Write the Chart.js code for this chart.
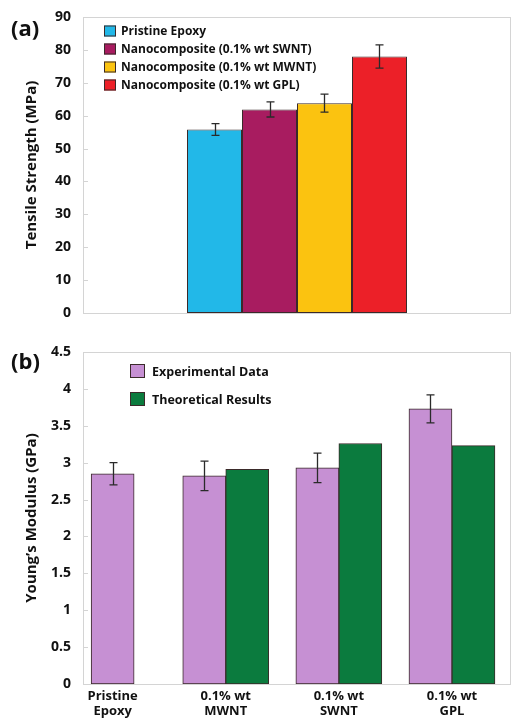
<!DOCTYPE html>
<html>
<head>
<meta charset="utf-8">
<script src="https://cdn.jsdelivr.net/npm/chart.js@4.4.0/dist/chart.umd.min.js"></script>
<style>
  html, body { margin: 0; padding: 0; background: #fff; }
  #wrap { position: relative; width: 512px; height: 721px; overflow: hidden; font-family: "Open Sans", sans-serif; }
  canvas { position: absolute; left: 0; }
  #cA { top: 0; }
  #cB { top: 330px; }
  .panel { position: absolute; font-weight: bold; font-size: 22px; color: #111; line-height: 1; }
</style>
</head>
<body>
<div id="wrap">
  <canvas id="cA" width="512" height="330"></canvas>
  <canvas id="cB" width="512" height="391"></canvas>
  <div class="panel" style="left:11px; top:16px">(a)</div>
  <div class="panel" style="left:11px; top:349px">(b)</div>
</div>
<script>
/* ── data ───────────────────────────────────────── */

// (a) tensile strength
var tsSeries = ['Pristine Epoxy', 'Nanocomposite (0.1% wt SWNT)', 'Nanocomposite (0.1% wt MWNT)', 'Nanocomposite (0.1% wt GPL)'];
var tsValues = [55.8, 61.9, 63.8, 78.0];
var tsErrors = [1.8, 2.3, 2.75, 3.55];
var tsColors = ['#22b8e8', '#a81c60', '#fbc310', '#ec2028'];

// (b) young's modulus
var ymCategories = [['Pristine', 'Epoxy'], ['0.1% wt', 'MWNT'], ['0.1% wt', 'SWNT'], ['0.1% wt', 'GPL']];
var ymSeries = ['Experimental Data', 'Theoretical Results'];
var ymExp = [2.85, 2.82, 2.93, 3.73];
var ymExpErr = [0.15, 0.2, 0.2, 0.19];
var ymTheory = [null, 2.91, 3.26, 3.23];
var ymColors = ['#c690d3', '#0b7b3e'];

var FONT = '"Open Sans"';
var INK = '#111';

/* ── plugins ────────────────────────────────────── */

// light grey frame + short inward tick marks
var framePlugin = {
  id: 'frame',
  beforeDatasetsDraw: function (chart) {
    var a = chart.chartArea, ctx = chart.ctx, y = chart.scales.y;
    ctx.save();
    ctx.strokeStyle = '#d4d4d4';
    ctx.lineWidth = 1;
    ctx.strokeRect(a.left + 0.5, a.top + 0.5, a.right - a.left - 1, a.bottom - a.top);
    y.ticks.forEach(function (t, i) {
      var py = Math.round(y.getPixelForTick(i)) + 0.5;
      ctx.beginPath();
      ctx.moveTo(a.left, py);
      ctx.lineTo(a.left + 5, py);
      ctx.stroke();
    });
    ctx.restore();
  }
};

// legend drawn inside the plot
var boxLegend = {
  id: 'boxLegend',
  afterDraw: function (chart, args, o) {
    var ctx = chart.ctx;
    ctx.save();
    ctx.font = 'bold ' + o.size + 'px ' + FONT;
    ctx.textBaseline = 'middle';
    chart.data.datasets.forEach(function (ds, i) {
      var cy = o.y + i * o.step;
      ctx.fillStyle = ds.backgroundColor;
      ctx.fillRect(o.x, cy - o.bh / 2, o.bw, o.bh);
      ctx.strokeStyle = '#3a2a2a';
      ctx.lineWidth = 1;
      ctx.strokeRect(o.x + 0.5, cy - o.bh / 2 + 0.5, o.bw - 1, o.bh - 1);
      ctx.fillStyle = INK;
      ctx.fillText(ds.label, o.tx, cy + 1);
    });
    ctx.restore();
  }
};

function errPlugin(errList) {
  return {
    id: 'errBars',
    afterDatasetsDraw: function (chart) {
      var ctx = chart.ctx, y = chart.scales.y;
      ctx.save();
      ctx.strokeStyle = '#2a2a2a';
      ctx.lineWidth = 1.3;
      errList.forEach(function (errs, di) {
        if (!errs) return;
        var meta = chart.getDatasetMeta(di);
        meta.data.forEach(function (bar, i) {
          var p = meta.controller.getParsed(i);
          var v = p && p.y, e = errs[i];
          if (v == null || e == null) return;
          var top = y.getPixelForValue(v + e), bot = y.getPixelForValue(v - e);
          var x = Math.round(bar.x) + 0.5;
          ctx.beginPath();
          ctx.moveTo(x, top); ctx.lineTo(x, bot);
          ctx.moveTo(x - 4, top); ctx.lineTo(x + 4, top);
          ctx.moveTo(x - 4, bot); ctx.lineTo(x + 4, bot);
          ctx.stroke();
        });
      });
      ctx.restore();
    }
  };
}

function tickFont(size) { return { family: FONT, weight: 'bold', size: size }; }

/* ── (a) tensile strength ───────────────────────── */
new Chart(document.getElementById('cA'), {
  type: 'bar',
  data: {
    labels: [''],
    datasets: tsSeries.map(function (name, i) {
      return {
        label: name,
        data: [tsValues[i]],
        backgroundColor: tsColors[i],
        borderColor: '#3a2a2a',
        borderWidth: 1,
        borderSkipped: false,
        categoryPercentage: 0.514,
        barPercentage: 1
      };
    })
  },
  options: {
    responsive: false,
    animation: false,
    devicePixelRatio: 1,
    layout: { padding: { top: 17, right: 1, left: 0, bottom: 0 } },
    plugins: {
      legend: { display: false },
      tooltip: { enabled: false },
      boxLegend: { x: 104, y: 31, step: 18, bw: 12, bh: 11, tx: 121, size: 12 }
    },
    scales: {
      x: {
        grid: { display: false, drawTicks: false },
        border: { display: false },
        ticks: { display: false },
        afterFit: function (s) { s.height = 17; s.paddingLeft = 0; s.paddingRight = 0; }
      },
      y: {
        min: 0, max: 90,
        ticks: { stepSize: 10, padding: 12, color: INK, font: tickFont(14) },
        grid: { display: false, drawTicks: false },
        border: { display: false },
        title: {
          display: true, text: 'Tensile Strength (MPa)', color: INK,
          font: tickFont(15),
          padding: { top: 23, bottom: 0 }
        },
        afterFit: function (s) { s.width = 83; s.paddingTop = 0; s.paddingBottom = 0; }
      }
    }
  },
  plugins: [framePlugin, errPlugin(tsSeries.map(function (n, i) {
    return [tsErrors[i]];
  })), boxLegend]
});

/* ── (b) young's modulus ────────────────────────── */
function points(vals) {
  return vals.map(function (v, i) { return { x: i, y: v }; });
}

new Chart(document.getElementById('cB'), {
  type: 'bar',
  data: {
    datasets: [
      { label: ymSeries[0], data: points(ymExp), backgroundColor: ymColors[0] },
      { label: ymSeries[1], data: points(ymTheory), backgroundColor: ymColors[1] }
    ]
  },
  options: {
    responsive: false,
    animation: false,
    devicePixelRatio: 1,
    skipNull: true,
    layout: { padding: { top: 22, right: 1, left: 0, bottom: 0 } },
    datasets: {
      bar: { borderColor: '#3a2a2a', borderWidth: 1, borderSkipped: false, barThickness: 43 }
    },
    plugins: {
      legend: { display: false },
      tooltip: { enabled: false },
      boxLegend: { x: 130, y: 41, step: 28, bw: 15, bh: 14, tx: 152, size: 12.5 }
    },
    scales: {
      x: {
        type: 'linear',
        min: -0.262, max: 3.522,
        offset: false,
        grid: { display: false, drawTicks: false },
        border: { display: false },
        afterBuildTicks: function (s) {
          s.ticks = ymCategories.map(function (c, i) { return { value: i }; });
        },
        ticks: {
          padding: 4, color: INK, font: tickFont(13),
          autoSkip: false, maxRotation: 0,
          callback: function (v, i) { return ymCategories[i]; }
        },
        afterFit: function (s) { s.height = 37; }
      },
      y: {
        min: 0, max: 4.5,
        ticks: {
          stepSize: 0.5, padding: 12, color: INK, font: tickFont(14),
          callback: function (v) { return String(v); }
        },
        grid: { display: false, drawTicks: false },
        border: { display: false },
        title: {
          display: true, text: 'Young\u2019s Modulus (GPa)', color: INK,
          font: tickFont(15),
          padding: { top: 23, bottom: 0 }
        },
        afterFit: function (s) { s.width = 83; }
      }
    }
  },
  plugins: [framePlugin, errPlugin([ymExpErr, null]), boxLegend]
});
</script>
</body>
</html>
